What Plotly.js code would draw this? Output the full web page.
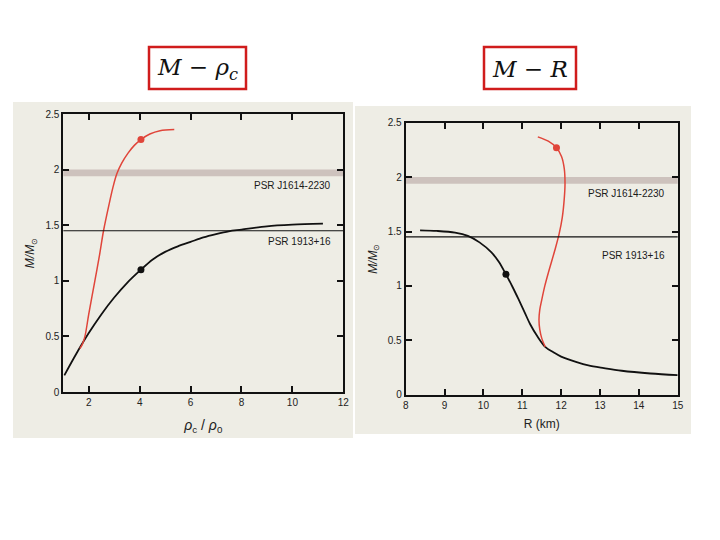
<!DOCTYPE html>
<html>
<head>
<meta charset="utf-8">
<script src="https://cdn.plot.ly/plotly-3.0.1.min.js"></script>
<style>html,body{margin:0;padding:0;background:#fff;}#chart{width:720px;height:540px;}</style>
</head>
<body>
<div id="chart"></div>
<script>
// ---- Data ----
// Left panel: M vs central density rho_c/rho_0
const blackRho = [1.04, 1.5, 2.0, 2.5, 3.0, 3.5, 4.05, 4.5, 5.0, 5.5, 6.0, 6.5, 7.0, 7.5, 8.0, 9.0, 10.0, 11.2];
const blackMRho = [0.15, 0.34, 0.53, 0.70, 0.85, 0.98, 1.10, 1.19, 1.26, 1.31, 1.35, 1.39, 1.42, 1.445, 1.46, 1.49, 1.505, 1.515];
const redRho = [1.65, 1.75, 1.85, 2.0, 2.24, 2.43, 2.58, 2.8, 2.95, 3.1, 3.3, 3.55, 3.8, 4.05, 4.4, 4.8, 5.36];
const redMRho = [0.39, 0.43, 0.50, 0.70, 1.0, 1.24, 1.45, 1.69, 1.84, 1.96, 2.06, 2.15, 2.22, 2.27, 2.32, 2.35, 2.36];
const dotRho = [4.05, 4.05];
const dotMRho = [1.10, 2.27];

// Right panel: M vs radius R (km)
const blackR = [8.37, 8.8, 9.27, 9.6, 9.9, 10.2, 10.4, 10.58, 10.75, 10.9, 11.07, 11.2, 11.4, 11.59, 11.8, 12.0, 12.4, 12.7, 13.1, 13.56, 14.3, 15.0];
const blackMR = [1.51, 1.505, 1.49, 1.46, 1.40, 1.31, 1.22, 1.106, 0.99, 0.88, 0.75, 0.65, 0.53, 0.44, 0.39, 0.35, 0.30, 0.27, 0.245, 0.22, 0.195, 0.18];
const redR = [11.59, 11.5, 11.45, 11.43, 11.45, 11.5, 11.58, 11.67, 11.84, 11.95, 12.03, 12.08, 12.1, 12.08, 12.01, 11.88, 11.67, 11.4];
const redMR = [0.44, 0.52, 0.60, 0.69, 0.78, 0.87, 1.0, 1.12, 1.33, 1.48, 1.63, 1.80, 1.94, 2.08, 2.19, 2.27, 2.33, 2.37];
const dotR = [10.58, 11.88];
const dotMR = [1.106, 2.27];

// Observational constraints
const bandLow = 1.94, bandHigh = 2.0;      // PSR J1614-2230
const lineM = 1.45;                          // PSR 1913+16
const psrLabels = ['PSR J1614-2230', 'PSR 1913+16'];
const psrLabelY1 = [1.855, 1.35];
const psrLabelY2 = [1.85, 1.28];

const leftXTicks = [2, 4, 6, 8, 10, 12];
const rightXTicks = [8, 9, 10, 11, 12, 13, 14, 15];
const yTicks = [0, 0.5, 1, 1.5, 2, 2.5];
const yTickText = ['0', '0.5', '1', '1.5', '2', '2.5'];

// ---- Styling ----
const beige = '#eeede5';
const redCol = '#e0453a';
const tickFont = {family: 'Liberation Sans, Arial, sans-serif', size: 10, color: '#222'};

function axisBase(extra) {
  return Object.assign({
    showgrid: false, zeroline: false, showline: true, linecolor: '#111', linewidth: 2,
    mirror: 'ticks', ticks: 'inside', ticklen: 6, tickwidth: 2, tickcolor: '#111',
    tickfont: tickFont, fixedrange: true
  }, extra);
}

const lineBlack = {color: '#111', width: 1.8, shape: 'spline', smoothing: 0.9};
const lineRed = {color: redCol, width: 1.5, shape: 'spline', smoothing: 0.9};

const traces = [
  {x: blackRho, y: blackMRho, xaxis: 'x', yaxis: 'y', mode: 'lines', line: lineBlack, hoverinfo: 'skip'},
  {x: redRho, y: redMRho, xaxis: 'x', yaxis: 'y', mode: 'lines', line: lineRed, hoverinfo: 'skip'},
  {x: dotRho, y: dotMRho, xaxis: 'x', yaxis: 'y', mode: 'markers', marker: {color: ['#111', redCol], size: 7}, hoverinfo: 'skip'},
  {x: blackR, y: blackMR, xaxis: 'x2', yaxis: 'y2', mode: 'lines', line: lineBlack, hoverinfo: 'skip'},
  {x: redR, y: redMR, xaxis: 'x2', yaxis: 'y2', mode: 'lines', line: lineRed, hoverinfo: 'skip'},
  {x: dotR, y: dotMR, xaxis: 'x2', yaxis: 'y2', mode: 'markers', marker: {color: ['#111', redCol], size: 7}, hoverinfo: 'skip'}
];

const W = 720, H = 540;
const px = v => v / W, py = v => 1 - v / H;

const shapes = [
  // panel backgrounds
  {type: 'rect', xref: 'paper', yref: 'paper', x0: px(13), x1: px(353), y0: py(438), y1: py(102), fillcolor: beige, line: {width: 0}, layer: 'below'},
  {type: 'rect', xref: 'paper', yref: 'paper', x0: px(355), x1: px(691), y0: py(434), y1: py(106), fillcolor: beige, line: {width: 0}, layer: 'below'},
  // title boxes
  {type: 'rect', xref: 'paper', yref: 'paper', x0: px(149), x1: px(246), y0: py(89), y1: py(47), line: {color: '#d01c1c', width: 2.5}},
  {type: 'rect', xref: 'paper', yref: 'paper', x0: px(484), x1: px(576), y0: py(89), y1: py(47), line: {color: '#d01c1c', width: 2.5}},
  // bands
  {type: 'rect', xref: 'x domain', yref: 'y', x0: 0, x1: 1, y0: bandLow, y1: bandHigh, fillcolor: '#cdc2bd', line: {width: 0}, layer: 'below'},
  {type: 'rect', xref: 'x2 domain', yref: 'y2', x0: 0, x1: 1, y0: bandLow, y1: bandHigh, fillcolor: '#cdc2bd', line: {width: 0}, layer: 'below'},
  // PSR 1913+16 line
  {type: 'line', xref: 'x domain', yref: 'y', x0: 0, x1: 1, y0: lineM, y1: lineM, line: {color: '#111', width: 1.2}},
  {type: 'line', xref: 'x2 domain', yref: 'y2', x0: 0, x1: 1, y0: lineM, y1: lineM, line: {color: '#111', width: 1.2}}
];

const labFont = {family: 'Liberation Sans, Arial, sans-serif', size: 10, color: '#1a1a1a'};
const mathFont = {family: 'DejaVu Serif, serif', size: 23, color: '#111'};
const annotations = [
  {xref: 'paper', yref: 'paper', x: px(197), y: py(69), text: '<i>M</i> − <i>ρ</i><sub><i>c</i></sub>', showarrow: false, font: mathFont, xanchor: 'center', yanchor: 'middle'},
  {xref: 'paper', yref: 'paper', x: px(530), y: py(69), text: '<i>M</i> − <i>R</i>', showarrow: false, font: mathFont, xanchor: 'center', yanchor: 'middle'},
  {xref: 'x', yref: 'y', x: 11.6, y: psrLabelY1[0], text: psrLabels[0], showarrow: false, font: labFont, xanchor: 'right', yanchor: 'middle'},
  {xref: 'x', yref: 'y', x: 11.6, y: psrLabelY1[1], text: psrLabels[1], showarrow: false, font: labFont, xanchor: 'right', yanchor: 'middle'},
  {xref: 'x2', yref: 'y2', x: 14.72, y: psrLabelY2[0], text: psrLabels[0], showarrow: false, font: labFont, xanchor: 'right', yanchor: 'middle'},
  {xref: 'x2', yref: 'y2', x: 14.72, y: psrLabelY2[1], text: psrLabels[1], showarrow: false, font: labFont, xanchor: 'right', yanchor: 'middle'}
];

const yTitle = {text: '<i>M/M</i><sub>⊙</sub>', font: {family: 'Liberation Sans, Arial, sans-serif', size: 12, color: '#222'}, standoff: 8};

const layout = {
  width: W, height: H,
  margin: {l: 0, r: 0, t: 0, b: 0},
  paper_bgcolor: '#ffffff', plot_bgcolor: 'rgba(0,0,0,0)',
  showlegend: false,
  xaxis: axisBase({domain: [px(63.3), px(343.3)], range: [1, 12], tickvals: leftXTicks, anchor: 'y',
    title: {text: '<i>ρ</i><sub>c</sub> / <i>ρ</i><sub>0</sub>', font: {family: 'Liberation Sans, Arial, sans-serif', size: 14, color: '#222'}, standoff: 13}}),
  yaxis: axisBase({domain: [py(392), py(114)], range: [0, 2.5], tickvals: yTicks, ticktext: yTickText, anchor: 'x', title: yTitle}),
  xaxis2: axisBase({domain: [px(405.7), px(677.7)], range: [8, 15], tickvals: rightXTicks, anchor: 'y2',
    title: {text: 'R (km)', font: {family: 'Liberation Sans, Arial, sans-serif', size: 12, color: '#222'}, standoff: 10}}),
  yaxis2: axisBase({domain: [py(394.7), py(122.7)], range: [0, 2.5], tickvals: yTicks, ticktext: yTickText, anchor: 'x2', title: yTitle}),
  shapes: shapes,
  annotations: annotations
};

Plotly.newPlot('chart', traces, layout, {staticPlot: true, displayModeBar: false});
</script>
</body>
</html>
